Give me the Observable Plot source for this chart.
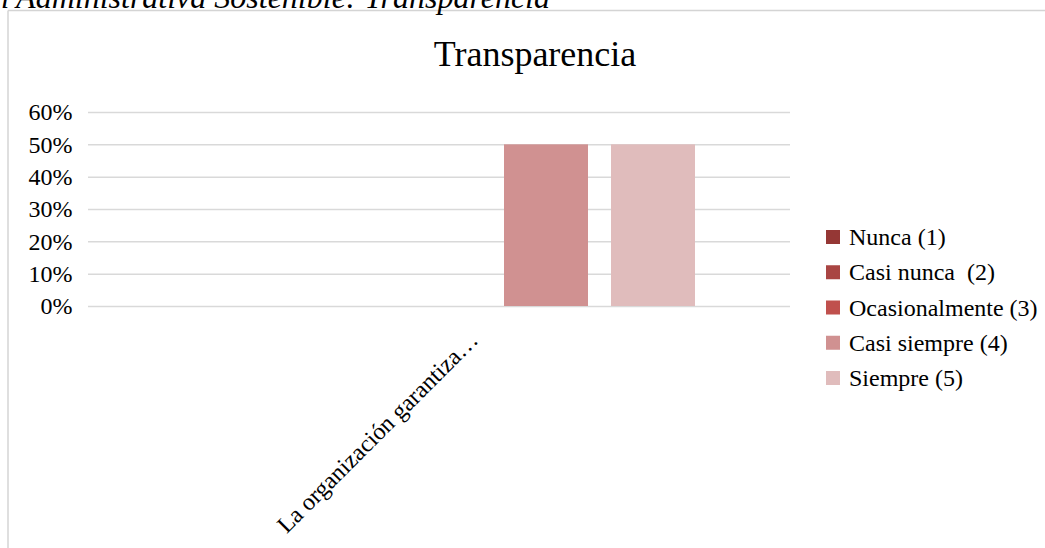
<!DOCTYPE html>
<html>
<head>
<meta charset="utf-8">
<script src="https://cdn.jsdelivr.net/npm/d3@7"></script>
<script src="https://cdn.jsdelivr.net/npm/@observablehq/plot@0.6"></script>
<style>
  html, body { margin: 0; padding: 0; background: #fff; }
  #wrap { position: relative; width: 1045px; height: 548px; overflow: hidden; font-family: "Liberation Serif", "Times New Roman", serif; }
  #chart, #overlay { position: absolute; left: 0; top: 0; }
  #overlay { pointer-events: none; }
</style>
</head>
<body>
<div id="wrap">
  <div id="chart"></div>
  <svg id="overlay" width="1045" height="548"></svg>
</div>
<script>
const headerText = "Gestión Administrativa Sostenible: Transparencia";
const chartTitle = "Transparencia";
const categories = ["La organización garantiza…"];
const series = ["Nunca (1)", "Casi nunca  (2)", "Ocasionalmente (3)", "Casi siempre (4)", "Siempre (5)"];
const values = [0, 0, 0, 0.5, 0.5];
const colors = ["#953735", "#a94543", "#c0504d", "#d09191", "#e0bcbc"];
const yTicks = [0, 0.1, 0.2, 0.3, 0.4, 0.5, 0.6];

const data = series.map((s, i) => ({category: categories[0], series: s, value: values[i]}));
const pct = d3.format(".0%");

const plot = Plot.plot({
  width: 1045,
  height: 548,
  marginLeft: 88,
  marginRight: 255,
  marginTop: 112,
  marginBottom: 242,
  style: {fontFamily: "Liberation Serif, Times New Roman, serif", fontSize: "24px", color: "#000", background: "transparent", overflow: "visible"},
  fx: {domain: categories, padding: 0, axis: null, label: null},
  x: {domain: series, paddingInner: 0.213, paddingOuter: 0.857, axis: null},
  y: {domain: [0, 0.6], label: null},
  color: {domain: series, range: colors},
  marks: [
    Plot.gridY(yTicks, {stroke: "#d9d9d9", strokeOpacity: 1, strokeWidth: 1.5}),
    Plot.axisY(yTicks, {tickSize: 0, tickPadding: 16, tickFormat: pct, fontSize: 24, label: null, fill: "#000"}),
    Plot.barY(data, {fx: "category", x: "series", y: "value", fill: "series"}),
    Plot.text(categories, {fx: d => d, text: d => d, frameAnchor: "bottom", rotate: -45, textAnchor: "end", lineAnchor: "bottom", dx: 40, dy: 35, fontSize: 24, fill: "#000"})
  ]
});
document.getElementById("chart").appendChild(plot);

const ov = d3.select("#overlay");
ov.append("line").attr("x1", 8).attr("y1", 10.5).attr("x2", 1045).attr("y2", 10.5).attr("stroke", "#d4d4d4").attr("stroke-width", 1.5);
ov.append("line").attr("x1", 8).attr("y1", 10.5).attr("x2", 8).attr("y2", 548).attr("stroke", "#d4d4d4").attr("stroke-width", 1.5);
ov.append("text").attr("x", 550).attr("y", 8).attr("text-anchor", "end")
  .attr("font-family", "Liberation Serif, Times New Roman, serif").attr("font-style", "italic").attr("font-size", 32)
  .text(headerText);
ov.append("text").attr("x", 535).attr("y", 66).attr("text-anchor", "middle")
  .attr("font-family", "Liberation Serif, Times New Roman, serif").attr("font-size", 36)
  .text(chartTitle);
const lg = ov.append("g");
series.forEach((s, i) => {
  const cy = 237 + i * 35.25;
  lg.append("rect").attr("x", 826).attr("y", cy - 7).attr("width", 14).attr("height", 14).attr("fill", colors[i]);
  lg.append("text").attr("x", 849).attr("y", cy + 8)
    .attr("font-family", "Liberation Serif, Times New Roman, serif").attr("font-size", 24)
    .attr("xml:space", "preserve").style("white-space", "pre")
    .text(s);
});
</script>
</body>
</html>
